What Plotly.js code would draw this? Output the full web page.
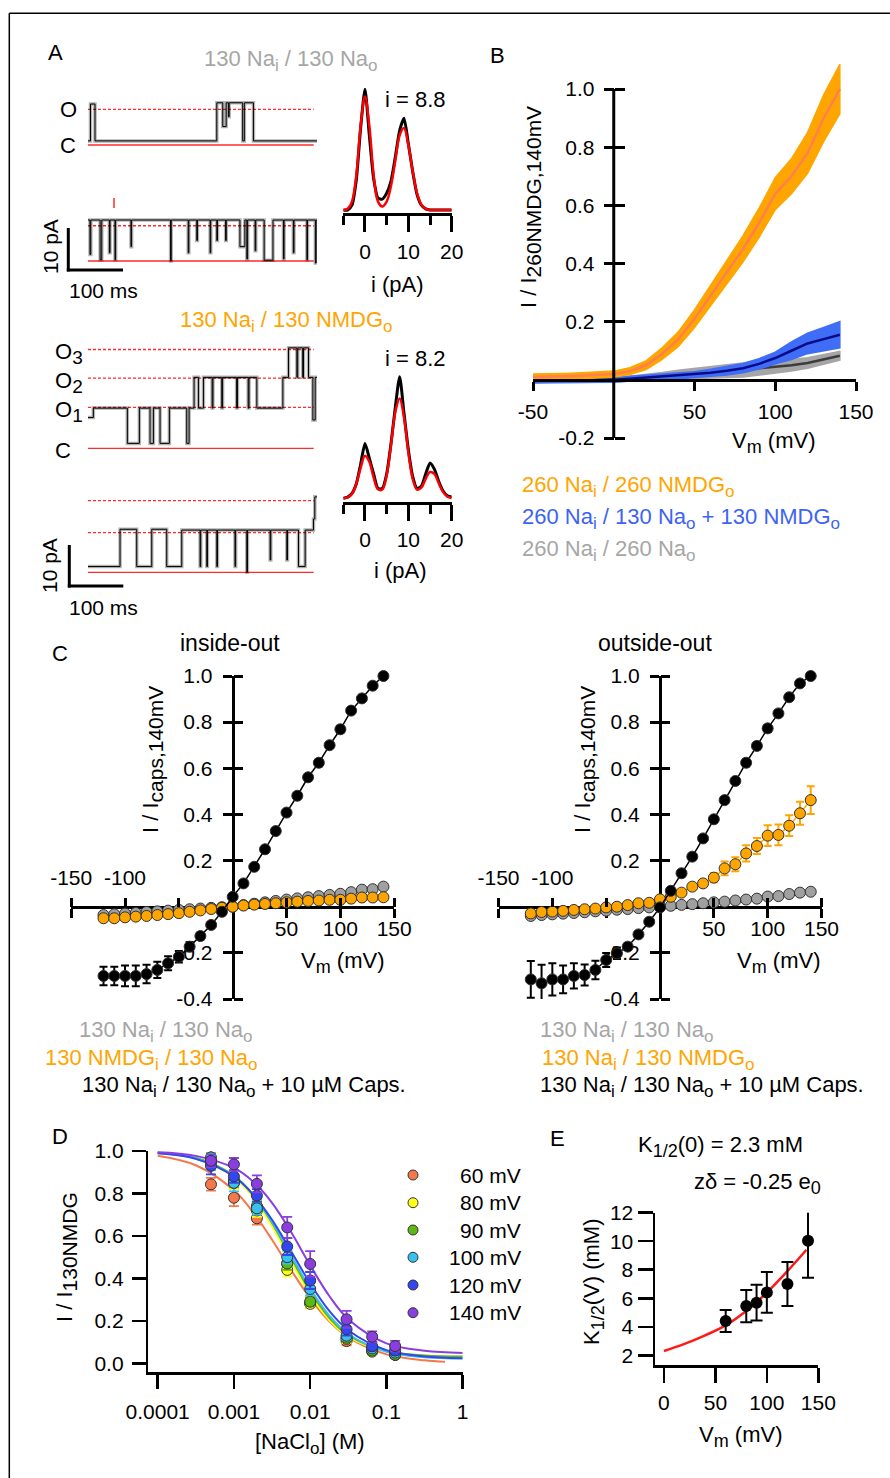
<!DOCTYPE html>
<html><head><meta charset="utf-8">
<script src="https://cdn.plot.ly/plotly-3.0.1.min.js"></script>
<style>html,body{margin:0;padding:0;background:#fff}</style>
</head><body><div id="chart" style="width:890px;height:1478px"></div>
<script>
// ================= DATA =================
// Panel A: single-channel records as step lists (time in ms, current in pA)
const a1T = [0, 4.5, 12.7, 234, 244.8, 251, 255, 256.5, 281, 284, 300.5, 416];
const a1I = [1.0, 10, 1.0, 10.3, 4.5, 10.3, 6.9, 10.3, 1.0, 10.3, 1.0, 1.0];
const a2T = [0, 3.6,5.1, 22,25, 38.8,40, 49,50.2, 78,79.2, 150,151.2, 182,183.2, 197.6,198.8, 221.8,223, 234,235.2, 250,251.2, 276,285, 288.5,290, 303.6,304.8, 320,336, 355,356.2, 373,374.2, 397.6,398.8, 413,414.5, 416];
const a2I = [10, 1.6,10, 0.3,10, 2.0,10, 0.3,10, 3.5,10, 0.0,10, 2.0,10, 5.0,10, 2.0,10, 5.0,10, 5.0,10, 3.5,10, 0.5,10, 2.5,10, 0.2,10, 0.5,10, 2.0,10, 0.3,10, -0.5,10, 10];
const a3T = [0, 9.7, 71.5, 93.3, 112.7, 118.8, 130.9, 147.8, 179.4, 183.6, 192.7, 200.6, 209.7, 225.5, 227, 243, 244.5, 270, 271.5, 291, 292.5, 306.7, 354, 364.2, 379.4, 381, 390, 391.5, 400.6, 408.5, 412.7, 418.8];
const a3I = [7.5, 9.8, 1.2, 9.8, 1.2, 9.8, 1.2, 9.8, 1.2, 9.8, 17.3, 9.8, 17.3, 9.8, 17.3, 9.8, 17.3, 9.8, 17.3, 9.8, 17.3, 9.8, 17.3, 24.5, 17.3, 24.5, 17.3, 24.5, 17.3, 6.9, 17.3, 17.3];
const a4T = [0, 58.2, 88.5, 115.8, 143, 170.3, 203.6,204.8, 215.8,217, 234,235.2, 267,268.2, 288.5,289.7, 330.9,332.1, 361.2,362.4, 382.4, 394.5, 409.6, 412, 416];
const a4I = [1.4, 10.5, 1.4, 10.5, 1.4, 10.3, 1.4,10.3, 1.4,10.3, 1.4,10.3, 1.4,10.3, 0.0,10.3, 3.0,10.3, 3.0,10.3, 1.4, 10.3, 13, 18.4, 18.4];
// current levels (closed first, then open levels)
const lvl1 = [0, 8.7];
const lvl2 = [0, 8.6];
const lvl3 = [0, 10.0, 17.1, 24.1];
const lvl4 = [0, 9.7, 17.5];
const lvlSpan = [0, 410];
// amplitude histograms (pA) and Gaussian fits
const hX = [-5,-4,-3,-2,-1,0,1,2,3,4,5,6,7,8,9,10,11,12,13,14,15,16,17,18,19,20];
const h1Black = [0,0,0.04,0.25,0.68,1.0,0.62,0.26,0.10,0.09,0.14,0.24,0.44,0.66,0.76,0.55,0.32,0.13,0.04,0.01,0,0,0,0,0,0];
const h1Fit   = [0,0.01,0.07,0.29,0.70,0.94,0.70,0.29,0.07,0.03,0.07,0.20,0.41,0.62,0.68,0.54,0.32,0.14,0.045,0.01,0,0,0,0,0,0];
const h2Black = [0,0.01,0.04,0.12,0.28,0.45,0.33,0.20,0.08,0.08,0.20,0.45,0.75,1.0,0.70,0.40,0.18,0.08,0.10,0.20,0.29,0.24,0.14,0.06,0.02,0.01];
const h2Fit   = [0,0.007,0.036,0.12,0.25,0.35,0.30,0.17,0.074,0.073,0.19,0.44,0.71,0.82,0.665,0.38,0.16,0.071,0.087,0.16,0.216,0.20,0.125,0.053,0.015,0.003];

// Panel B: normalized I-V (mean and SEM)
const bV = [-50,-40,-30,-20,-10,0,10,20,30,40,50,60,70,80,90,100,110,120,130,140];
const bOrange = [0.01,0.01,0.012,0.014,0.016,0.02,0.03,0.05,0.09,0.14,0.21,0.29,0.37,0.45,0.54,0.64,0.70,0.78,0.90,1.0];
const bOrangeErr = [0.01,0.01,0.01,0.01,0.01,0.01,0.012,0.015,0.02,0.025,0.03,0.035,0.04,0.045,0.05,0.055,0.06,0.07,0.08,0.085];
const bBlue = [0,0,0,0,0,0,0.004,0.008,0.011,0.014,0.018,0.024,0.031,0.04,0.055,0.075,0.10,0.125,0.14,0.155];
const bBlueErr = [0.01,0.01,0.008,0.008,0.008,0.008,0.008,0.008,0.01,0.01,0.01,0.012,0.014,0.016,0.018,0.02,0.03,0.035,0.04,0.045];
const bGray = [0,0,0,0,0,0,0.004,0.008,0.013,0.018,0.022,0.026,0.03,0.034,0.04,0.045,0.05,0.058,0.07,0.083];
const bGrayErr = [0.012,0.01,0.01,0.008,0.008,0.008,0.008,0.01,0.012,0.015,0.018,0.02,0.022,0.024,0.025,0.022,0.02,0.018,0.016,0.015];

// Panel C
const cV = [-120,-110,-100,-90,-80,-70,-60,-50,-40,-30,-20,-10,0,10,20,30,40,50,60,70,80,90,100,110,120,130,140];
const ioCaps = [-0.30,-0.30,-0.30,-0.30,-0.292,-0.274,-0.245,-0.217,-0.173,-0.127,-0.079,-0.022,0.043,0.101,0.173,0.249,0.328,0.408,0.481,0.561,0.624,0.70,0.769,0.85,0.903,0.958,1.0];
const ioCapsErr = [0.04,0.04,0.045,0.045,0.04,0.035,0.03,0.025,0.02,0.015,0.01,0.01,0.01,0.01,0.01,0.01,0.01,0.01,0.01,0.01,0.015,0.01,0.015,0.01,0.01,0.01,0.005];
const ioNa = [-0.036,-0.033,-0.03,-0.027,-0.023,-0.02,-0.017,-0.014,-0.011,-0.008,-0.005,-0.002,0.0,0.007,0.013,0.019,0.025,0.031,0.036,0.041,0.046,0.051,0.056,0.063,0.074,0.076,0.087];
const ioNaErr = [0.005,0.005,0.005,0.005,0.005,0.005,0.005,0.005,0.005,0.005,0.005,0.005,0.005,0.005,0.005,0.005,0.005,0.005,0.005,0.005,0.005,0.005,0.006,0.006,0.008,0.008,0.012];
const ioNmdg = [-0.05,-0.05,-0.046,-0.043,-0.04,-0.036,-0.032,-0.028,-0.022,-0.016,-0.01,-0.005,0.0,0.005,0.009,0.012,0.015,0.019,0.022,0.025,0.027,0.03,0.03,0.035,0.04,0.04,0.041];
const ioNmdgErr = [0.005,0.005,0.005,0.005,0.005,0.005,0.005,0.005,0.005,0.005,0.005,0.005,0.005,0.005,0.005,0.005,0.005,0.005,0.005,0.005,0.005,0.005,0.006,0.006,0.006,0.006,0.006];
const ooCaps = [-0.315,-0.332,-0.315,-0.315,-0.30,-0.296,-0.274,-0.231,-0.202,-0.173,-0.12,-0.065,-0.003,0.069,0.145,0.217,0.296,0.379,0.462,0.545,0.624,0.697,0.773,0.838,0.908,0.968,1.0];
const ooCapsErr = [0.08,0.08,0.07,0.06,0.055,0.045,0.04,0.03,0.025,0.015,0.01,0.01,0.01,0.01,0.01,0.01,0.01,0.01,0.01,0.01,0.015,0.015,0.015,0.01,0.01,0.01,0.005];
const ooNmdg = [-0.029,-0.023,-0.021,-0.018,-0.014,-0.011,-0.008,-0.003,0.0,0.007,0.015,0.017,0.032,0.043,0.061,0.087,0.101,0.126,0.166,0.184,0.231,0.263,0.308,0.311,0.351,0.405,0.462];
const ooNmdgErr = [0.01,0.01,0.01,0.01,0.01,0.01,0.01,0.01,0.01,0.01,0.01,0.01,0.01,0.01,0.01,0.01,0.015,0.02,0.03,0.03,0.035,0.035,0.045,0.045,0.045,0.05,0.06];
const ooNa = [-0.04,-0.036,-0.033,-0.03,-0.027,-0.024,-0.02,-0.017,-0.013,-0.01,-0.006,-0.003,0.0,0.004,0.008,0.011,0.015,0.019,0.022,0.027,0.031,0.035,0.044,0.046,0.055,0.061,0.065];
const ooNaErr = [0.005,0.005,0.005,0.005,0.005,0.005,0.005,0.005,0.005,0.005,0.005,0.005,0.005,0.005,0.005,0.005,0.005,0.005,0.005,0.005,0.005,0.005,0.006,0.006,0.006,0.007,0.008];

// Panel D: dose-response
const naCl = [0.0005, 0.001, 0.002, 0.005, 0.01, 0.03, 0.065, 0.13];
const dLabels = ['60 mV','80 mV','90 mV','100 mV','120 mV','140 mV'];
const dColors = ['#f5784a','#ffff1a','#5cb814','#38c0f0','#3446f0','#8a3ee0'];
const d60  = [0.843, 0.78, 0.683, 0.47, 0.285, 0.105, 0.06, 0.04];
const d80  = [0.95, 0.85, 0.72, 0.44, 0.28, 0.115, 0.055, 0.04];
const d90  = [0.95, 0.86, 0.74, 0.47, 0.29, 0.12, 0.06, 0.04];
const d100 = [0.97, 0.85, 0.73, 0.50, 0.35, 0.13, 0.07, 0.05];
const d120 = [0.93, 0.88, 0.79, 0.55, 0.39, 0.16, 0.08, 0.06];
const d140 = [0.954, 0.937, 0.845, 0.64, 0.468, 0.207, 0.125, 0.081];
const d60Err  = [0.03, 0.04, 0.03, 0.03, 0.025, 0.02, 0.015, 0.015];
const d80Err  = [0.04, 0.03, 0.03, 0.03, 0.02, 0.02, 0.01, 0.01];
const d90Err  = [0.04, 0.03, 0.03, 0.03, 0.02, 0.02, 0.01, 0.01];
const d100Err = [0.06, 0.04, 0.03, 0.03, 0.03, 0.02, 0.015, 0.015];
const d120Err = [0.04, 0.03, 0.03, 0.04, 0.04, 0.03, 0.02, 0.02];
const d140Err = [0.03, 0.03, 0.04, 0.05, 0.06, 0.04, 0.025, 0.025];
const fitX   = [0.0001, 0.000316, 0.001, 0.00178, 0.00316, 0.00562, 0.01, 0.0178, 0.0316, 0.1, 0.316, 1];
const fit60X = [0.0001, 0.000316, 0.001, 0.00178, 0.00316, 0.00562, 0.01, 0.0178, 0.0316, 0.1, 0.316, 0.586];
const f60  = [0.978, 0.933, 0.815, 0.712, 0.582, 0.439, 0.306, 0.198, 0.122, 0.042, 0.014, 0.007];
const f80  = [0.991, 0.966, 0.877, 0.782, 0.645, 0.481, 0.324, 0.204, 0.126, 0.056, 0.037, 0.032];
const f90  = [0.992, 0.968, 0.884, 0.794, 0.661, 0.498, 0.339, 0.214, 0.132, 0.058, 0.037, 0.032];
const f100 = [0.990, 0.965, 0.881, 0.793, 0.666, 0.509, 0.352, 0.225, 0.138, 0.054, 0.029, 0.023];
const f120 = [0.989, 0.963, 0.880, 0.796, 0.676, 0.528, 0.376, 0.247, 0.156, 0.062, 0.032, 0.024];
const f140 = [0.994, 0.977, 0.920, 0.856, 0.756, 0.618, 0.461, 0.317, 0.208, 0.094, 0.059, 0.049];

// Panel E
const eV = [60, 80, 90, 100, 120, 140];
const eK = [4.40, 5.45, 5.69, 6.41, 7.0, 10.03];
const eKErr = [0.77, 1.13, 1.25, 1.43, 1.54, 2.6];
const eFitV = [0, 20, 40, 60, 80, 100, 120, 138.5];
const eFitK = [2.3, 2.8, 3.4, 4.1, 5.1, 6.4, 7.9, 9.4];

// ================= LAYOUT HELPERS =================
const F = 'Liberation Sans, Arial, Helvetica, sans-serif';
const W = 890, H = 1478;
const px = v => v / W;
const py = v => 1 - v / H;
const TF = {family: F, size: 21, color: '#000'};
const sb = (s, size) => '<sub><span style="font-size:' + size + 'px">' + s + '</span></sub>';

function vis(o) {
  return Object.assign({showgrid: false, zeroline: false, showline: true, linecolor: '#000', linewidth: 3,
    ticks: 'outside', tickcolor: '#000', tickwidth: 3, ticklen: 9, tickfont: TF, fixedrange: true}, o);
}
function hid(o) { return Object.assign({visible: false, fixedrange: true, showgrid: false, zeroline: false}, o); }
const SCALE = 4.1; // px per pA in the records
function recY(top, bottom, zero, anchor) {
  return hid({domain: [py(bottom), py(top)], range: [(zero - bottom) / SCALE, (zero - top) / SCALE], anchor: anchor});
}

const L = {width: W, height: H, margin: {l: 0, r: 0, t: 0, b: 0}, paper_bgcolor: '#fff', plot_bgcolor: 'rgba(0,0,0,0)',
  showlegend: false, font: {family: F, size: 21, color: '#000'}, annotations: [], shapes: [], hovermode: false};

// A: records
const recDom = [px(88), px(317)];
L.xaxis  = hid({domain: recDom, range: [0, 416], anchor: 'y'});
L.yaxis  = recY(85, 160, 145, 'x');
L.xaxis2 = hid({domain: recDom, range: [0, 416], anchor: 'y2'});
L.yaxis2 = recY(190, 280, 261, 'x2');
L.xaxis3 = hid({domain: recDom, range: [0, 416], anchor: 'y3'});
L.yaxis3 = recY(330, 470, 448.3, 'x3');
L.xaxis4 = hid({domain: recDom, range: [0, 416], anchor: 'y4'});
L.yaxis4 = recY(480, 590, 572.3, 'x4');
// A: histograms
const histX = o => vis(Object.assign({domain: [px(343.3), px(451.7)], range: [-5, 20], tick0: 0, dtick: 10, ticklen: 16,
  ticklabelstandoff: 1, minor: {dtick: 5, tick0: 0, ticklen: 9, tickwidth: 3, tickcolor: '#000', ticks: 'outside'}}, o));
L.xaxis5 = histX({anchor: 'y5'});
L.yaxis5 = hid({domain: [py(213.3), py(85)], range: [-0.027, 1.036], anchor: 'x5'});
L.xaxis6 = histX({anchor: 'y6'});
L.yaxis6 = hid({domain: [py(501.7), py(370)], range: [-0.028, 1.055], anchor: 'x6'});

// B (plot area extends above 1.0 so the orange band is not cut; the axis line stops at 1.0)
const bX0 = 533, bX1 = 856, bY0 = 438, bY1 = 89, bTop = 50;
const bPerUnit = (bY0 - bY1) / 1.2;
const bYmax = 1.0 + (bY1 - bTop) / bPerUnit;
const bZeroX = bX0 + (0 + 50) / 200 * (bX1 - bX0);
const bZeroY = bY0 - 0.2 * bPerUnit;
const bYt = [-0.2, 0.2, 0.4, 0.6, 0.8, 1.0];
L.xaxis7 = vis({domain: [px(bX0), px(bX1)], range: [-50, 150], anchor: 'free', position: py(bZeroY),
  tickvals: [-50, 50, 100, 150], ticktext: ['-50', '50', '100', '150'], ticklabelstandoff: 3});
L.yaxis7 = vis({domain: [py(bY0), py(bTop)], range: [-0.2, bYmax], anchor: 'free', position: px(bZeroX), showline: false,
  tickvals: bYt, ticktext: bYt.map(v => v.toFixed(1)), ticklen: 10, ticklabelstandoff: 5});
L.yaxis8 = vis({overlaying: 'y7', side: 'right', range: [-0.2, bYmax], anchor: 'free', position: px(bZeroX),
  tickvals: bYt, showticklabels: false, showline: false, ticklen: 10});

// C
const cY0 = 999, cY1 = 676;
const cZeroY = cY1 + 1.0 / 1.4 * (cY0 - cY1);
const cYt = [-0.4, -0.2, 0.2, 0.4, 0.6, 0.8, 1.0];
const cXt = [-150, -100, -50, 50, 100, 150];
function cAxes(n, x0, x1) {
  const zx = (x0 + x1) / 2;
  const xm = 'xaxis' + n, ym = 'yaxis' + n, xo = 'xaxis' + (n + 1), yo = 'yaxis' + (n + 1);
  L[xm] = vis({domain: [px(x0), px(x1)], range: [-150, 150], anchor: 'free', position: py(cZeroY), layer: 'below traces',
    tickvals: cXt, ticktext: ['', '', '', '50', '100', '150'], ticklabelstandoff: -7});
  L[xo] = vis({overlaying: 'x' + n, side: 'top', range: [-150, 150], anchor: 'free', position: py(cZeroY), showline: false,
    tickvals: cXt, ticktext: ['-150', '-100', '', '', '', ''], ticklabelstandoff: 4});
  L[ym] = vis({domain: [py(cY0), py(cY1)], range: [-0.4, 1.0], anchor: 'free', position: px(zx), layer: 'below traces',
    tickvals: cYt, ticktext: cYt.map(v => v.toFixed(1)), ticklabelstandoff: 6});
  L[yo] = vis({overlaying: 'y' + n, side: 'right', range: [-0.4, 1.0], anchor: 'free', position: px(zx), showline: false,
    tickvals: cYt, showticklabels: false});
}
cAxes(9, 71.2, 394.2);
cAxes(11, 498.5, 821.5);

// D
const dYt = [0, 0.2, 0.4, 0.6, 0.8, 1.0];
L.xaxis13 = vis({type: 'log', domain: [px(148.3), px(462.7)], range: [-4.123, 0], anchor: 'y13', linewidth: 2.5, tickwidth: 2.5,
  tickvals: [0.0001, 0.001, 0.01, 0.1, 1], ticktext: ['0.0001', '0.001', '0.01', '0.1', '1'], ticklen: 14, ticklabelstandoff: 5});
L.yaxis13 = vis({domain: [py(1372), py(1151)], range: [-0.041, 1.0], anchor: 'x13', linewidth: 2.5, tickwidth: 2.5,
  tickvals: dYt, ticktext: dYt.map(v => v.toFixed(1)), ticklen: 14, ticklabelstandoff: 4});
// E
L.xaxis14 = vis({domain: [px(655), px(818.3)], range: [-8.7, 150], anchor: 'y14', linewidth: 2.5, tickwidth: 2.5,
  tickvals: [0, 50, 100, 150], ticklen: 15, ticklabelstandoff: 2});
L.yaxis14 = vis({domain: [py(1365), py(1212.7)], range: [1.32, 12], anchor: 'x14', linewidth: 2.5, tickwidth: 2.5,
  tickvals: [2, 4, 6, 8, 10, 12], ticklen: 15, ticklabelstandoff: 0});

// ================= TRACES =================
const T = [];
const RED = '#ff2a2a';
function levels(lv, xa, ya) {
  lv.forEach((v, k) => T.push({x: lvlSpan, y: [v, v], xaxis: xa, yaxis: ya, mode: 'lines',
    line: {color: RED, width: 1.3, dash: k === 0 ? 'solid' : '3px,2px'}}));
}
function record(t, i, xa, ya) {
  T.push({x: t, y: i, xaxis: xa, yaxis: ya, mode: 'lines', line: {shape: 'hv', color: 'rgba(0,0,0,0.3)', width: 3.5}});
  T.push({x: t, y: i, xaxis: xa, yaxis: ya, mode: 'lines', line: {shape: 'hv', color: '#000', width: 1}});
}
levels(lvl1, 'x', 'y'); record(a1T, a1I, 'x', 'y');
levels(lvl2, 'x2', 'y2'); record(a2T, a2I, 'x2', 'y2');
levels(lvl3, 'x3', 'y3'); record(a3T, a3I, 'x3', 'y3');
levels(lvl4, 'x4', 'y4'); record(a4T, a4I, 'x4', 'y4');
function hist(b, f, xa, ya) {
  T.push({x: hX, y: b, xaxis: xa, yaxis: ya, mode: 'lines', line: {shape: 'spline', smoothing: 0.6, color: '#000', width: 3}});
  T.push({x: hX, y: f, xaxis: xa, yaxis: ya, mode: 'lines', line: {shape: 'spline', smoothing: 1, color: '#ff0000', width: 2.5}});
}
hist(h1Black, h1Fit, 'x5', 'y5');
hist(h2Black, h2Fit, 'x6', 'y6');

// B
function band(x, m, e, fillc, linec, xa, ya) {
  const up = m.map((v, i) => v + e[i]);
  const lo = m.map((v, i) => v - e[i]);
  T.push({x: x.concat(x.slice().reverse()), y: up.concat(lo.slice().reverse()), xaxis: xa, yaxis: ya,
    mode: 'lines', fill: 'toself', fillcolor: fillc, line: {color: fillc, width: 1.5}});
  T.push({x: x, y: m, xaxis: xa, yaxis: ya, mode: 'lines', line: {color: linec, width: 2.5}});
}
band(bV, bGray, bGrayErr, '#a6a6a6', '#3c3c3c', 'x7', 'y7');
band(bV, bBlue, bBlueErr, '#3f6df5', '#0a0a8c', 'x7', 'y7');
band(bV, bOrange, bOrangeErr, '#ffa500', '#ff7f50', 'x7', 'y8');

// C
function cSeries(y, e, fill, linec, xa, ya) {
  T.push({x: cV, y: y, xaxis: xa, yaxis: ya, mode: 'lines+markers', cliponaxis: false,
    line: {color: linec, width: 1.5},
    marker: {size: 11, color: fill, line: {color: '#303030', width: 1}},
    error_y: {type: 'data', array: e, visible: true, color: linec, thickness: 2, width: 4}});
}
cSeries(ioNa, ioNaErr, '#a0a0a0', '#a0a0a0', 'x9', 'y9');
cSeries(ioNmdg, ioNmdgErr, '#ffa500', '#ffa500', 'x9', 'y9');
cSeries(ioCaps, ioCapsErr, '#000', '#000', 'x9', 'y9');
T.push({x: [], y: [], xaxis: 'x10', yaxis: 'y9', mode: 'markers'});
T.push({x: [], y: [], xaxis: 'x9', yaxis: 'y10', mode: 'markers'});
cSeries(ooNa, ooNaErr, '#a0a0a0', '#a0a0a0', 'x11', 'y11');
cSeries(ooNmdg, ooNmdgErr, '#ffa500', '#ffa500', 'x11', 'y11');
cSeries(ooCaps, ooCapsErr, '#000', '#000', 'x11', 'y11');
T.push({x: [], y: [], xaxis: 'x12', yaxis: 'y11', mode: 'markers'});
T.push({x: [], y: [], xaxis: 'x11', yaxis: 'y12', mode: 'markers'});

// D
const dVals = [d60, d80, d90, d100, d120, d140];
const dErrs = [d60Err, d80Err, d90Err, d100Err, d120Err, d140Err];
const dFits = [f60, f80, f90, f100, f120, f140];
dFits.forEach((f, k) => T.push({x: k === 0 ? fit60X : fitX, y: f, xaxis: 'x13', yaxis: 'y13', mode: 'lines',
  line: {shape: 'spline', color: dColors[k], width: 2}}));
dVals.forEach((v, k) => T.push({x: naCl, y: v, xaxis: 'x13', yaxis: 'y13', mode: 'markers', cliponaxis: false,
  marker: {size: 11, color: dColors[k], line: {color: '#333', width: 1}},
  error_y: {type: 'data', array: dErrs[k], visible: true, color: dColors[k], thickness: 1.8, width: 5}}));

// E
T.push({x: eFitV, y: eFitK, xaxis: 'x14', yaxis: 'y14', mode: 'lines', line: {shape: 'spline', color: '#ff1a1a', width: 2.5}});
T.push({x: eV, y: eK, xaxis: 'x14', yaxis: 'y14', mode: 'markers', cliponaxis: false,
  marker: {size: 12, color: '#000'},
  error_y: {type: 'data', array: eKErr, visible: true, color: '#000', thickness: 2, width: 6}});

T.forEach(t => { t.showlegend = false; t.hoverinfo = 'skip'; });

// ================= TEXT =================
function ann(text, x, y, o) {
  o = o || {};
  L.annotations.push({xref: 'paper', yref: 'paper', x: px(x), y: py(y), text: text, showarrow: false,
    xanchor: o.xa || 'center', yanchor: 'middle', textangle: o.angle || 0,
    font: {family: F, size: o.size || 22, color: o.color || '#000'}});
}
const GRAY = '#a6a6a6', ORANGE = '#ffa500', BLUE = '#3d63f5';
const i_ = sb('i', 17), o_ = sb('o', 17), m_ = sb('m', 18);
// A
ann('A', 55, 53);
ann('130 Na' + i_ + ' / 130 Na' + o_, 290, 61, {color: GRAY});
ann('O', 68, 110); ann('C', 68, 145);
ann('10 pA', 50, 247, {angle: -90, size: 21});
ann('100 ms', 103, 290, {size: 21});
ann('i = 8.8', 415, 99);
ann('i (pA)', 397, 284);
ann('130 Na' + i_ + ' / 130 NMDG' + o_, 286, 321, {color: ORANGE});
ann('O' + sb('3', 19), 69, 354); ann('O' + sb('2', 19), 69, 382); ann('O' + sb('1', 19), 69, 411);
ann('C', 63, 450);
ann('10 pA', 50, 566, {angle: -90, size: 21});
ann('100 ms', 103, 607, {size: 21});
ann('i = 8.2', 415, 358);
ann('i (pA)', 400, 571);
// B
ann('B', 498, 55);
ann('I / I' + sb('260NMDG,140mV', 21), 530, 207, {angle: -90});
ann('V' + m_ + ' (mV)', 773, 442);
ann('260 Na' + i_ + ' / 260 NMDG' + o_, 520, 486, {xa: 'left', color: ORANGE});
ann('260 Na' + i_ + ' / 130 Na' + o_ + ' + 130 NMDG' + o_, 520, 518, {xa: 'left', color: BLUE});
ann('260 Na' + i_ + ' / 260 Na' + o_, 520, 550, {xa: 'left', color: GRAY});
// C
ann('C', 60, 653);
ann('inside-out', 230, 643, {size: 23});
ann('outside-out', 655, 643, {size: 23});
ann('I / I' + sb('caps,140mV', 21), 153, 760, {angle: -90});
ann('I / I' + sb('caps,140mV', 21), 585, 760, {angle: -90});
ann('V' + m_ + ' (mV)', 342, 963);
ann('V' + m_ + ' (mV)', 778, 963);
ann('130 Na' + i_ + ' / 130 Na' + o_, 77, 1031, {xa: 'left', color: GRAY});
ann('130 NMDG' + i_ + ' / 130 Na' + o_, 43, 1059, {xa: 'left', color: ORANGE});
ann('130 Na' + i_ + ' / 130 Na' + o_ + ' + 10 µM Caps.', 80, 1086, {xa: 'left'});
ann('130 Na' + i_ + ' / 130 Na' + o_, 538, 1031, {xa: 'left', color: GRAY});
ann('130 Na' + i_ + ' / 130 NMDG' + o_, 540, 1059, {xa: 'left', color: ORANGE});
ann('130 Na' + i_ + ' / 130 Na' + o_ + ' + 10 µM Caps.', 538, 1086, {xa: 'left'});
// D
ann('D', 60, 1136);
ann('I / I' + sb('130NMDG', 21), 66, 1257, {angle: -90});
ann('[NaCl' + o_ + '] (M)', 310, 1443);
const dRowY = [1175, 1202.7, 1230, 1257.3, 1285, 1312.7];
dLabels.forEach((s, k) => {
  ann(s, 523, dRowY[k], {xa: 'right', size: 21});
  L.shapes.push({type: 'circle', xref: 'paper', yref: 'paper', x0: px(408), x1: px(418), y0: py(dRowY[k] + 5), y1: py(dRowY[k] - 5),
    fillcolor: dColors[k], line: {color: '#333', width: 1}});
});
// E
ann('E', 557, 1138);
ann('K' + sb('1/2', 18) + '(0) = 2.3 mM', 720, 1146);
ann('zδ = -0.25 e' + sb('0', 18), 757, 1183);
ann('K' + sb('1/2', 18) + '(V) (mM)', 593, 1282, {angle: -90});
ann('V' + m_ + ' (mV)', 740, 1436);

// shapes: frame, scale bars, event tick, B y-axis line (from -0.2 to 1.0)
function seg(x0, y0, x1, y1, color, width) {
  L.shapes.push({type: 'line', xref: 'paper', yref: 'paper', x0: px(x0), y0: py(y0), x1: px(x1), y1: py(y1),
    line: {color: color, width: width}});
}
seg(9.3, 13.3, 890, 13.3, '#000', 1.5);
seg(9.3, 13.3, 9.3, 1478, '#000', 1.5);
seg(68.3, 228, 68.3, 271.5, '#000', 3);
seg(66.8, 270, 123, 270, '#000', 3);
seg(69.3, 545, 69.3, 587.5, '#000', 3);
seg(67.8, 586, 123.3, 586, '#000', 3);
seg(114, 198, 114, 208, RED, 1.5);
L.shapes.push({type: 'line', xref: 'x7', yref: 'y7', x0: 0, x1: 0, y0: bYt[0], y1: bYt[bYt.length - 1],
  line: {color: '#000', width: 3}, layer: 'above'});

Plotly.newPlot('chart', T, L, {staticPlot: true, displayModeBar: false});
</script></body></html>
